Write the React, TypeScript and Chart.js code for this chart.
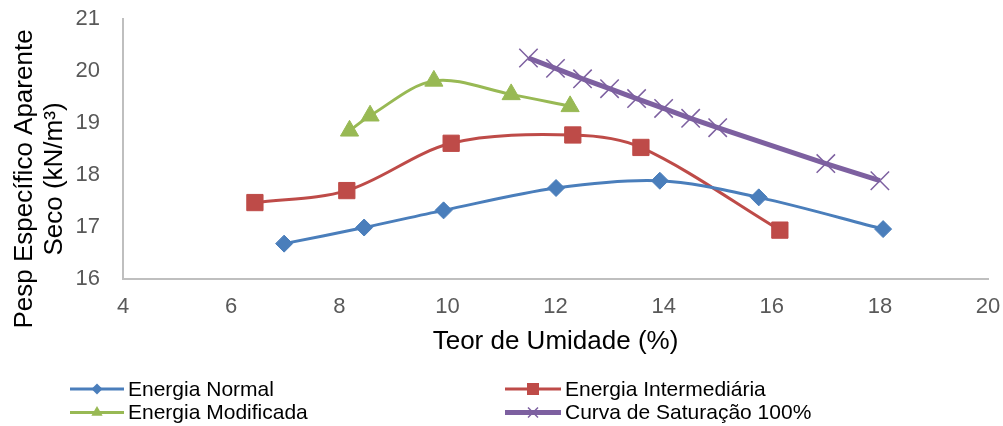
import { useEffect, useRef } from 'react';
import { Chart, registerables } from 'chart.js';

Chart.register(...registerables);

// Moisture content (%) and dry unit weight (kN/m³) for each compaction energy
const normalMoisture = [6.98, 8.46, 9.93, 12.01, 13.93, 15.76, 18.06];
const normalWeight = [16.68, 16.99, 17.32, 17.75, 17.89, 17.57, 16.96];

const intermMoisture = [6.44, 8.14, 10.07, 12.32, 13.58, 16.15];
const intermWeight = [17.47, 17.70, 18.61, 18.77, 18.53, 16.94];

const modifMoisture = [8.19, 8.57, 9.75, 11.18, 12.27];
const modifWeight = [18.85, 19.14, 19.81, 19.55, 19.32];

const saturMoisture = [11.5, 12, 12.5, 13, 13.5, 14, 14.5, 15, 17, 18];
const saturWeight = [20.25, 20.05, 19.85, 19.66, 19.47, 19.28, 19.09, 18.91, 18.22, 17.89];

const seriesNames = [
  'Energia Normal',
  'Energia Intermediária',
  'Energia Modificada',
  'Curva de Saturação 100%',
];

const xTitle = 'Teor de Umidade (%)';
const yTitleLines = ['Pesp Específico Aparente', 'Seco (kN/m³)'];

const xMin = 4;
const xMax = 20;
const xStep = 2;
const yMin = 16;
const yMax = 21;
const yStep = 1;

const FONT = "'Liberation Sans', Arial, sans-serif";

const BLUE = '#4a7ebb';
const RED = '#be4b48';
const GREEN = '#98b954';
const PURPLE = '#7d60a0';

const pairs = (xs: number[], ys: number[]) => xs.map((x, i) => ({ x, y: ys[i] }));

type MarkerKind = 'rectRot' | 'rect' | 'triangle' | 'crossRot';

function drawMarker(ctx: CanvasRenderingContext2D, kind: MarkerKind, x: number, y: number, r: number, color: string) {
  ctx.save();
  ctx.fillStyle = color;
  ctx.strokeStyle = color;
  ctx.beginPath();
  if (kind === 'rectRot') {
    ctx.moveTo(x - r, y);
    ctx.lineTo(x, y - r);
    ctx.lineTo(x + r, y);
    ctx.lineTo(x, y + r);
    ctx.closePath();
    ctx.fill();
  } else if (kind === 'rect') {
    ctx.rect(x - r, y - r, 2 * r, 2 * r);
    ctx.fill();
  } else if (kind === 'triangle') {
    ctx.moveTo(x, y - r);
    ctx.lineTo(x + r * 0.866, y + r / 2);
    ctx.lineTo(x - r * 0.866, y + r / 2);
    ctx.closePath();
    ctx.fill();
  } else {
    ctx.lineWidth = 1.5;
    ctx.moveTo(x - r, y - r);
    ctx.lineTo(x + r, y + r);
    ctx.moveTo(x + r, y - r);
    ctx.lineTo(x - r, y + r);
    ctx.stroke();
  }
  ctx.restore();
}

const legendKinds: MarkerKind[] = ['rectRot', 'rect', 'triangle', 'crossRot'];
const legendSizes = [5.5, 6, 6.5, 5];

// Rotated y-axis title and the two-column legend under the x-axis title
const decorations = {
  id: 'decorations',
  afterDraw(chart: Chart) {
    const ctx = chart.ctx;
    ctx.save();
    ctx.translate(0, 179);
    ctx.rotate(-Math.PI / 2);
    ctx.font = `26px ${FONT}`;
    ctx.fillStyle = '#000000';
    ctx.textAlign = 'center';
    ctx.textBaseline = 'alphabetic';
    ctx.fillText(yTitleLines[0], 0, 32);
    ctx.fillText(yTitleLines[1], 0, 62);
    ctx.restore();

    const cols = [
      { start: 70, end: 124 },
      { start: 505, end: 561 },
    ];
    const rows = [389, 412.5];
    chart.data.datasets.forEach((ds: any, i: number) => {
      const col = cols[i % 2];
      const y = rows[Math.floor(i / 2)];
      const color = ds.borderColor as string;
      ctx.save();
      ctx.strokeStyle = color;
      ctx.lineWidth = ds.borderWidth;
      ctx.lineCap = 'butt';
      ctx.beginPath();
      ctx.moveTo(col.start, y);
      ctx.lineTo(col.end, y);
      ctx.stroke();
      drawMarker(ctx, legendKinds[i], (col.start + col.end) / 2, y, legendSizes[i], color);
      ctx.font = `21px ${FONT}`;
      ctx.fillStyle = '#000000';
      ctx.textAlign = 'left';
      ctx.textBaseline = 'middle';
      ctx.fillText(seriesNames[i], col.end + 4, y + 1);
      ctx.restore();
    });
  },
};

export default function App() {
  const canvasRef = useRef<HTMLCanvasElement | null>(null);

  useEffect(() => {
    const canvas = canvasRef.current;
    if (!canvas) return;

    const chart = new Chart(canvas, {
      type: 'line',
      data: {
        datasets: [
          {
            label: seriesNames[0],
            data: pairs(normalMoisture, normalWeight),
            borderColor: BLUE,
            backgroundColor: BLUE,
            borderWidth: 3,
            tension: 0.33,
            pointStyle: 'rectRot',
            pointRadius: 8.5,
            pointBorderWidth: 1,
            pointBackgroundColor: BLUE,
            pointBorderColor: BLUE,
          },
          {
            label: seriesNames[1],
            data: pairs(intermMoisture, intermWeight),
            borderColor: RED,
            backgroundColor: RED,
            borderWidth: 3,
            tension: 0.33,
            pointStyle: 'rect',
            pointRadius: 11.5,
            pointBorderWidth: 1,
            pointBackgroundColor: RED,
            pointBorderColor: RED,
          },
          {
            label: seriesNames[2],
            data: pairs(modifMoisture, modifWeight),
            borderColor: GREEN,
            backgroundColor: GREEN,
            borderWidth: 3,
            tension: 0.33,
            pointStyle: 'triangle',
            pointRadius: 10.5,
            pointBorderWidth: 1,
            pointBackgroundColor: GREEN,
            pointBorderColor: GREEN,
          },
          {
            label: seriesNames[3],
            data: pairs(saturMoisture, saturWeight),
            borderColor: PURPLE,
            backgroundColor: PURPLE,
            borderWidth: 5,
            tension: 0,
            pointStyle: 'crossRot',
            pointRadius: 13,
            pointBorderWidth: 1.5,
            pointBackgroundColor: PURPLE,
            pointBorderColor: PURPLE,
          },
        ],
      },
      options: {
        responsive: false,
        animation: false,
        devicePixelRatio: 1,
        layout: { padding: { top: 19, right: 15, bottom: 68.4, left: 0 } },
        plugins: {
          legend: { display: false },
          tooltip: { enabled: false },
        },
        scales: {
          x: {
            type: 'linear',
            min: xMin,
            max: xMax,
            afterFit: (scale: any) => {
              scale.height = 78.6;
            },
            ticks: {
              stepSize: xStep,
              padding: 0,
              color: '#595959',
              font: { family: FONT, size: 22 },
            },
            grid: {
              display: true,
              drawOnChartArea: false,
              drawTicks: true,
              tickLength: 15,
              tickColor: 'rgba(0,0,0,0)',
            },
            border: { display: true, color: '#bfbfbf', width: 2 },
            title: {
              display: true,
              text: xTitle,
              color: '#000000',
              font: { family: FONT, size: 26 },
              padding: { top: 6, bottom: 0 },
            },
          },
          y: {
            type: 'linear',
            min: yMin,
            max: yMax,
            afterFit: (scale: any) => {
              scale.width = 123;
            },
            ticks: {
              stepSize: yStep,
              padding: 0,
              color: '#595959',
              font: { family: FONT, size: 22 },
            },
            grid: {
              display: true,
              drawOnChartArea: false,
              drawTicks: true,
              tickLength: 23,
              tickColor: 'rgba(0,0,0,0)',
            },
            border: { display: true, color: '#bfbfbf', width: 2 },
          },
        },
      },
      plugins: [decorations],
    });

    return () => chart.destroy();
  }, []);

  return (
    <div style={{ position: 'fixed', left: 0, top: 0, width: 1003, height: 426, background: '#ffffff' }}>
      <canvas ref={canvasRef} width={1003} height={426} style={{ display: 'block' }} />
    </div>
  );
}
